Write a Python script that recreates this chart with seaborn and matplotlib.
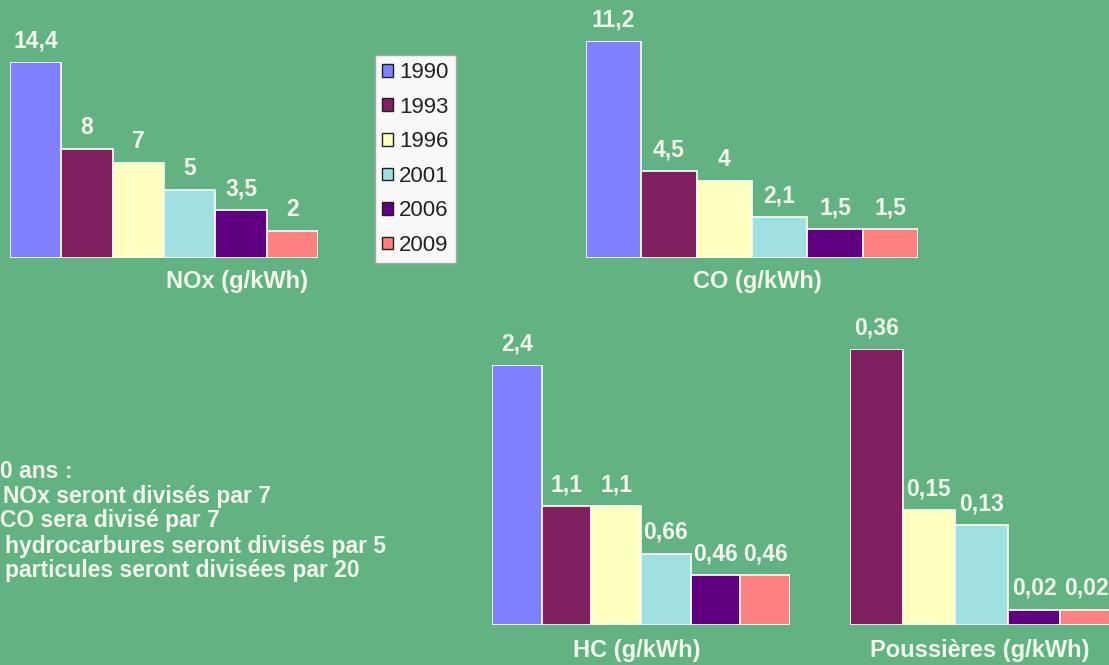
import matplotlib
matplotlib.use("Agg")
import matplotlib.pyplot as plt
from matplotlib.patches import Patch
import seaborn as sns
import pandas as pd

# Emission limits per standard year
years = ["1990", "1993", "1996", "2001", "2006", "2009"]
year_colors = ["#8080FF", "#802060", "#FFFFC0", "#A0E0E0", "#600080", "#FF8080"]

nox = [14.4, 8, 7, 5, 3.5, 2]
co = [11.2, 4.5, 4, 2.1, 1.5, 1.5]
hc = [2.4, 1.1, 1.1, 0.66, 0.46, 0.46]
poussieres = [None, 0.36, 0.15, 0.13, 0.02, 0.02]

panel_titles = ["NOx (g/kWh)", "CO (g/kWh)", "HC (g/kWh)", "Poussières (g/kWh)"]
summary_lines = [
    "0 ans :",
    "NOx seront divisés par 7",
    "CO sera divisé par 7",
    "hydrocarbures seront divisés par 5",
    "particules seront divisées par 20",
]

W, H = 1109, 665
BG = "#62B283"
TXT = "#F2F7EC"

sns.set_theme(style="white")
plt.rcParams["font.family"] = ["Liberation Sans", "DejaVu Sans"]

fig = plt.figure(figsize=(W / 100, H / 100), dpi=100, facecolor=BG)

# panel layout in pixels: left, baseline, width, tallest-bar height, title centre x, title y
layout = [
    (10, 258, 308, 196, 237, 281),
    (586, 258, 332, 217, 757, 281),
    (492, 625, 298, 260, 637, 650),
    (850, 625, 263, 276, 980, 650),
]
series = [nox, co, hc, poussieres]
palette = dict(zip(years, year_colors))


def fmt(v):
    return f"{v:g}".replace(".", ",")


for values, title, (left, base, width, tall, tx, ty) in zip(series, panel_titles, layout):
    df = pd.DataFrame({"year": years, "value": values}).dropna()
    ax = fig.add_axes([left / W, 1 - base / H, width / W, tall / H])
    sns.barplot(data=df, x="year", y="value", hue="year", palette=palette,
                saturation=1, width=1.0, edgecolor="#F4F8F0", linewidth=1.3,
                legend=False, ax=ax)
    ax.set_xlim(-0.5, len(df) - 0.5)
    ax.set_ylim(0, df["value"].max())
    ax.axis("off")
    for cont, v in zip(ax.containers, df["value"]):
        ax.bar_label(cont, labels=[fmt(v)], padding=7, color=TXT,
                     fontsize=16.5, fontweight="bold", clip_on=False)
    fig.text(tx / W, 1 - ty / H, title, ha="center", va="center",
             color=TXT, fontsize=17, fontweight="bold")

# legend box
handles = [Patch(facecolor=c, edgecolor="#202020", linewidth=1.0, label=y)
           for y, c in zip(years, year_colors)]
leg = fig.legend(handles=handles, loc="upper left",
                 bbox_to_anchor=(375 / W, 1 - 55 / H), frameon=True,
                 fancybox=False, facecolor="#F8F8F8", edgecolor="#A8A8A8",
                 framealpha=1, fontsize=16, handlelength=0.5, handleheight=0.5,
                 handletextpad=0.25, labelspacing=0.61, borderpad=0.32,
                 borderaxespad=0)
for t in leg.get_texts():
    t.set_color("#222222")

# summary text, bottom left
line_x = [0, 3, 0, 5, 5]
line_y = [471, 497, 521, 546, 571]
for s, x, y in zip(summary_lines, line_x, line_y):
    fig.text(x / W, 1 - y / H, s, ha="left", va="center", color=TXT,
             fontsize=16.5, fontweight="bold")

fig.savefig("out.png", dpi=100, facecolor=BG)
